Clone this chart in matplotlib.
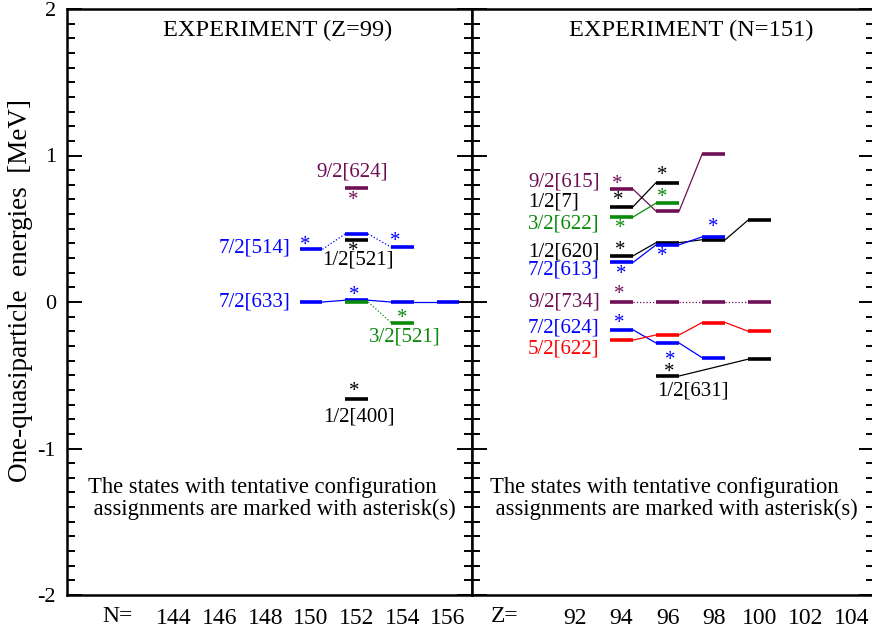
import matplotlib
matplotlib.use('Agg')
import matplotlib.pyplot as plt
from matplotlib.ticker import MultipleLocator

plt.rcParams['font.family'] = ['Liberation Serif', 'DejaVu Serif']

# ---------------- data ----------------
n_ticks = [144, 146, 148, 150, 152, 154, 156]
z_ticks = [92, 94, 96, 98, 100, 102, 104]

# Left panel: Z = 99, x = neutron number N
es_624_n = [152];                es_624_e = [0.78]
es_514_n = [150, 152, 154];      es_514_e = [0.36, 0.465, 0.375]
es_521h_n = [152];               es_521h_e = [0.42]
es_633_n = [150, 152, 154, 156]; es_633_e = [0.0, 0.012, 0.0, 0.0]
es_521t_n = [152, 154];          es_521t_e = [0.0, -0.14]
es_400_n = [152];                es_400_e = [-0.66]

# Right panel: N = 151, x = proton number Z
n151_615_z = [94, 96, 98];        n151_615_e = [0.77, 0.62, 1.01]
n151_7_z = [94, 96];              n151_7_e = [0.65, 0.815]
n151_622t_z = [94, 96];           n151_622t_e = [0.58, 0.675]
n151_620_z = [94, 96, 98, 100];   n151_620_e = [0.315, 0.405, 0.425, 0.56]
n151_613_z = [94, 96, 98];        n151_613_e = [0.27, 0.39, 0.445]
n151_734_z = [94, 96, 98, 100];   n151_734_e = [0.0, 0.0, 0.0, 0.0]
n151_624_z = [94, 96, 98];        n151_624_e = [-0.19, -0.28, -0.38]
n151_622f_z = [94, 96, 98, 100];  n151_622f_e = [-0.26, -0.225, -0.14, -0.2]
n151_631_z = [96, 100];           n151_631_e = [-0.505, -0.39]

left_names = ['9/2[624]', '7/2[514]', '1/2[521]', '7/2[633]', '3/2[521]', '1/2[400]']
right_names = ['9/2[615]', '1/2[7]', '3/2[622]', '1/2[620]', '7/2[613]',
               '9/2[734]', '7/2[624]', '5/2[622]', '1/2[631]']

# tentative assignments (level, x) -> asterisk
left_tentative = [('9/2[624]', 152), ('7/2[514]', 150), ('7/2[514]', 154),
                  ('1/2[521]', 152), ('7/2[633]', 152), ('3/2[521]', 154),
                  ('1/2[400]', 152)]
right_tentative = [('9/2[615]', 94), ('1/2[7]', 94), ('1/2[7]', 96),
                   ('3/2[622]', 94), ('3/2[622]', 96), ('1/2[620]', 94),
                   ('7/2[613]', 94), ('7/2[613]', 96), ('7/2[613]', 98),
                   ('9/2[734]', 94), ('7/2[624]', 94), ('7/2[624]', 96),
                   ('1/2[631]', 96)]

# ---------------- styles ----------------
BLUE = '#0000ff'
PURPLE = '#6e0f55'
GREEN = '#0a8a0a'
RED = '#ff0000'
BLACK = '#000000'
DOT = (0, (1, 1.6))

left_levels = {
    '9/2[624]': (es_624_n, es_624_e, PURPLE, '-'),
    '7/2[514]': (es_514_n, es_514_e, BLUE, DOT),
    '1/2[521]': (es_521h_n, es_521h_e, BLACK, '-'),
    '7/2[633]': (es_633_n, es_633_e, BLUE, '-'),
    '3/2[521]': (es_521t_n, es_521t_e, GREEN, DOT),
    '1/2[400]': (es_400_n, es_400_e, BLACK, '-'),
}
right_levels = {
    '9/2[615]': (n151_615_z, n151_615_e, PURPLE, '-'),
    '1/2[7]': (n151_7_z, n151_7_e, BLACK, '-'),
    '3/2[622]': (n151_622t_z, n151_622t_e, GREEN, '-'),
    '1/2[620]': (n151_620_z, n151_620_e, BLACK, '-'),
    '7/2[613]': (n151_613_z, n151_613_e, BLUE, '-'),
    '9/2[734]': (n151_734_z, n151_734_e, PURPLE, DOT),
    '7/2[624]': (n151_624_z, n151_624_e, BLUE, '-'),
    '5/2[622]': (n151_622f_z, n151_622f_e, RED, '-'),
    '1/2[631]': (n151_631_z, n151_631_e, BLACK, '-'),
}

# asterisk offsets (pixels: dx, dy of star centre relative to bar centre)
left_star_off = {('9/2[624]', 152): (-3, -10), ('7/2[514]', 150): (-6, 7),
                 ('7/2[514]', 154): (-7, 8.5), ('1/2[521]', 152): (-3, -8),
                 ('7/2[633]', 152): (-2, 7.5), ('3/2[521]', 154): (0, 7),
                 ('1/2[400]', 152): (-2, 10.5)}
right_star_off = {('9/2[615]', 94): (-4, 8), ('1/2[7]', 94): (-3.5, 9),
                  ('1/2[7]', 96): (-5, 10), ('3/2[622]', 94): (-1.5, -8.5),
                  ('3/2[622]', 96): (-5, 9), ('1/2[620]', 94): (-1.5, 9),
                  ('7/2[613]', 94): (-0.5, -8.5), ('7/2[613]', 96): (-5, -8),
                  ('7/2[613]', 98): (0, 12.5), ('9/2[734]', 94): (-2.5, 10.5),
                  ('7/2[624]', 94): (-2.5, 10), ('7/2[624]', 96): (2.5, -14),
                  ('1/2[631]', 96): (1.5, 6.5)}

# label placement: (x, y, ha)
left_label_pos = {'9/2[624]': (151.8, 0.89, 'center'), '7/2[514]': (149.1, 0.37, 'right'),
                  '1/2[521]': (152.05, 0.285, 'center'), '7/2[633]': (149.1, 0.0, 'right'),
                  '3/2[521]': (154.1, -0.24, 'center'), '1/2[400]': (152.1, -0.785, 'center')}
RX = 89.95
right_label_pos = {'9/2[615]': (RX, 0.82, 'left'), '1/2[7]': (RX, 0.683, 'left'),
                   '3/2[622]': (RX, 0.535, 'left'), '1/2[620]': (RX, 0.341, 'left'),
                   '7/2[613]': (RX, 0.218, 'left'), '9/2[734]': (RX, 0.0, 'left'),
                   '7/2[624]': (RX, -0.176, 'left'), '5/2[622]': (RX, -0.32, 'left'),
                   '1/2[631]': (97.1, -0.608, 'center')}

PX = 72.0 / 100.0
STAR_FS = 15
STAR_CENTER_PX = 0.37 * STAR_FS / PX  # glyph centre above baseline in px
LABEL_FS = 15


def draw_panel(ax, levels, names, tentative, star_off, label_pos):
    for name in names:
        xs, es, col, ls = levels[name]
        for i in range(len(xs) - 1):
            ax.plot([xs[i] + 0.5, xs[i + 1] - 0.5], [es[i], es[i + 1]],
                    color=col, lw=0.9, ls=ls, zorder=2)
    for name in names:
        xs, es, col, ls = levels[name]
        for x, e in zip(xs, es):
            ax.plot([x - 0.5, x + 0.5], [e, e], color=col, lw=2.6,
                    solid_capstyle='butt', zorder=3)
    for name, x in tentative:
        xs, es, col, ls = levels[name]
        e = es[xs.index(x)]
        dx, dy = star_off[(name, x)]
        ax.annotate('*', xy=(x, e), xytext=(dx * PX, (dy - STAR_CENTER_PX) * PX),
                    textcoords='offset points', ha='center', va='baseline',
                    color=col, fontsize=STAR_FS, zorder=4)
    for name in names:
        xs, es, col, ls = levels[name]
        lx, ly, ha = label_pos[name]
        ax.text(lx, ly, name, color=col, fontsize=LABEL_FS, ha=ha, va='center', zorder=5)


fig = plt.figure(figsize=(8.72, 6.35), dpi=100)
axL = fig.add_axes([67 / 872, 1 - 595 / 635, (472 - 67) / 872, 586 / 635])
axR = fig.add_axes([472 / 872, 1 - 595 / 635, (874 - 472) / 872, 586 / 635])

axL.set_xlim(139.31, 157.05)
axR.set_xlim(87.52, 104.95)

for ax in (axL, axR):
    ax.set_ylim(-2, 2)
    ax.yaxis.set_major_locator(MultipleLocator(1))
    ax.yaxis.set_minor_locator(MultipleLocator(0.1))
    ax.tick_params(axis='y', which='both', direction='in', left=True, right=True, width=1.4)
    ax.tick_params(axis='y', which='major', length=11, labelsize=16, pad=8)
    ax.tick_params(axis='y', which='minor', length=6)
    ax.tick_params(axis='x', which='both', length=0, labelsize=17, pad=9)
    for s in ax.spines.values():
        s.set_linewidth(1.8)

axL.set_yticks([-2, -1, 0, 1, 2])
axL.set_yticklabels(['-2', '-1', '0', '1', '2'])
axR.tick_params(axis='y', labelleft=False)

axL.set_xticks(n_ticks)
axL.set_xticklabels([str(v) for v in n_ticks])
axR.set_xticks(z_ticks)
axR.set_xticklabels([str(v) for v in z_ticks])
axL.text(141.5, -0.0375, 'N=', transform=axL.get_xaxis_transform(), fontsize=17,
         ha='center', va='center')
axR.text(88.95, -0.0375, 'Z=', transform=axR.get_xaxis_transform(), fontsize=17,
         ha='center', va='center')

draw_panel(axL, left_levels, left_names, left_tentative, left_star_off, left_label_pos)
draw_panel(axR, right_levels, right_names, right_tentative, right_star_off, right_label_pos)

axL.text(0.521, 0.963, 'EXPERIMENT (Z=99)', transform=axL.transAxes, fontsize=17.6,
         ha='center', va='center')
axR.text(0.546, 0.963, 'EXPERIMENT (N=151)', transform=axR.transAxes, fontsize=17.6,
         ha='center', va='center')

note = 'The states with tentative configuration\n assignments are marked with asterisk(s)'
axL.text(0.052, 0.1655, note, transform=axL.transAxes, fontsize=16.3, ha='left',
         va='center', linespacing=1.05)
axR.text(0.045, 0.1655, note, transform=axR.transAxes, fontsize=16.3, ha='left',
         va='center', linespacing=1.05)

fig.text(0.023, 0.543, 'One-quasiparticle  energies  [MeV]', rotation=90,
         fontsize=19.5, ha='center', va='center')

fig.savefig('out.png', dpi=100)
